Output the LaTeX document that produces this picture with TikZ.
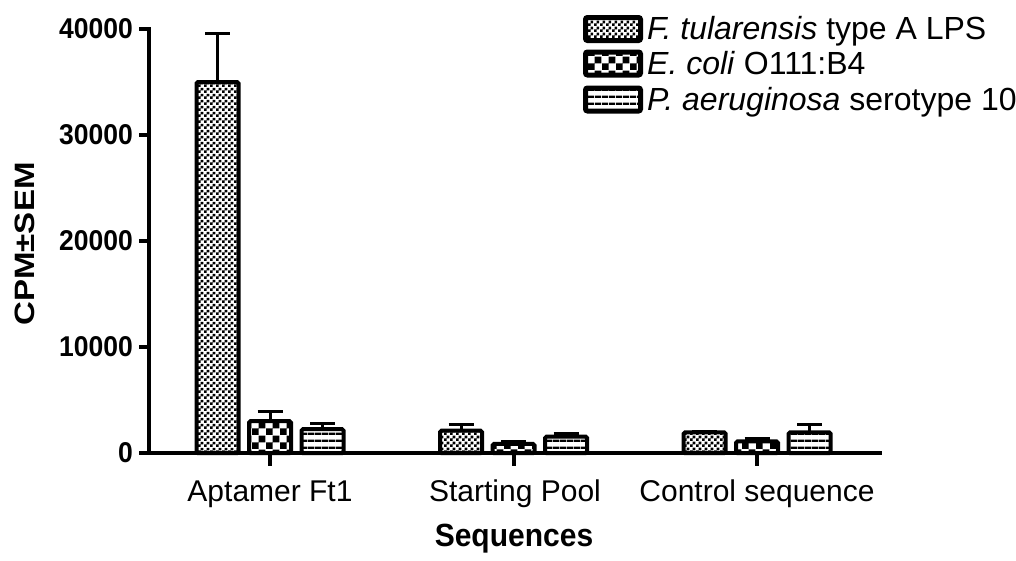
\documentclass[tikz,border=0pt]{standalone}
\usepackage{fontspec}
\setmainfont{Liberation Sans}
\usetikzlibrary{patterns}
\pgfdeclarepatternformonly{finecheck}{\pgfpointorigin}{\pgfqpoint{6pt}{6pt}}{\pgfqpoint{6pt}{6pt}}{%
  \pgfpathrectangle{\pgfpointorigin}{\pgfqpoint{3pt}{3pt}}%
  \pgfpathrectangle{\pgfqpoint{3pt}{3pt}}{\pgfqpoint{3pt}{3pt}}%
  \pgfusepath{fill}}
\pgfdeclarepatternformonly{coarsecheck}{\pgfpointorigin}{\pgfqpoint{14pt}{14pt}}{\pgfqpoint{14pt}{14pt}}{%
  \pgfpathrectangle{\pgfpointorigin}{\pgfqpoint{7pt}{7pt}}%
  \pgfpathrectangle{\pgfqpoint{7pt}{7pt}}{\pgfqpoint{7pt}{7pt}}%
  \pgfusepath{fill}}
\pgfdeclarepatternformonly{hstripes}{\pgfpointorigin}{\pgfqpoint{7pt}{7pt}}{\pgfqpoint{7pt}{7pt}}{%
  \pgfpathrectangle{\pgfpointorigin}{\pgfqpoint{7pt}{2.6pt}}%
  \pgfusepath{fill}}
\begin{document}
\begin{tikzpicture}[x=1pt,y=-1pt,
  axisline/.style={line width=4pt},
  barbox/.style={line width=4pt, rounded corners=1.5pt},
  errline/.style={line width=3pt},
  legbox/.style={line width=5pt, rounded corners=2pt},
  ticklab/.style={font=\fontsize{26.5}{30}\selectfont\bfseries, anchor=east, inner sep=0pt},
  catlab/.style={font=\fontsize{30}{34}\selectfont, anchor=base, inner sep=0pt},
  leglab/.style={font=\fontsize{32}{36}\selectfont, anchor=base west, inner sep=0pt},
  pF/.style={pattern=finecheck},
  pE/.style={pattern=coarsecheck},
  pP/.style={pattern=hstripes}]
\path[use as bounding box] (0,0) rectangle (1016,560);
% y(v) = 453 - 1.06 v   (v in hundreds)
\def\bw{21}
% bar macro: center x, value/100, error value/100, style
\newcommand\mybar[4]{%
  \pgfmathsetmacro\yt{453-1.06*#2}%
  \pgfmathsetmacro\ye{453-1.06*#3}%
  \draw[errline] (#1,\yt) -- (#1,\ye);
  \draw[errline] (#1-12.5,\ye) -- (#1+12.5,\ye);
  \draw[barbox,#4] (#1-\bw,453) rectangle (#1+\bw,\yt);
}
% group 1
\mybar{217.5}{350}{396}{pF}
\mybar{270}{30}{39.5}{pE}
\mybar{322.5}{22.5}{28}{pP}
% group 2
\mybar{461}{21}{27}{pF}
\mybar{513.5}{8.5}{11}{pE}
\mybar{566}{15.5}{18}{pP}
% group 3
\mybar{704.5}{19.5}{20.5}{pF}
\mybar{757}{11}{13.5}{pE}
\mybar{809.5}{19.5}{27}{pP}
% axes
\coordinate (o) at (149,453);
\coordinate (ytop) at (149,29);
\coordinate (xend) at (882,453);
\draw[axisline] (139,29) -- (ytop) -- (o) -- (xend);
\foreach \v/\yy in {0/453,10000/347,20000/241,30000/135,40000/29}{
  \draw[axisline] (139,\yy) -- (149,\yy);
  \node[ticklab] (t\v) at (133,\yy) {\scalebox{1}[1.08]{\v}};
}
\foreach \cx/\nm in {270/a,513.5/b,757/c}{
  \draw[axisline] (\cx,453) -- (\cx,466);
}
\node[catlab] (ca) at (270,501) {Aptamer Ft1};
\node[catlab] (cb) at (515,501) {Starting Pool};
\node[catlab] (cc) at (757,501) {Control sequence};
\node[font=\fontsize{30}{34}\selectfont\bfseries, anchor=base, inner sep=0pt] (xl) at (514,546) {\scalebox{1}[1.07]{Sequences}};
\node[font=\fontsize{28}{32}\selectfont\bfseries, rotate=90, inner sep=0pt] (yl) at (25,244) {\scalebox{1.18}[1]{CPM±SEM}};
% legend
\draw[legbox,pF] (585.5,17.5) rectangle (640.5,40.5);
\draw[legbox,pE] (585.5,52) rectangle (640.5,75);
\draw[legbox,pP] (585.5,88) rectangle (640.5,111);
\node[leglab] (l1) at (647,39.5) {\textit{F. tularensis} type A LPS};
\node[leglab] (l2) at (647,74) {\textit{E. coli} O111:B4};
\node[leglab] (l3) at (647,110) {\textit{P. aeruginosa} serotype 10};
\end{tikzpicture}
\end{document}
